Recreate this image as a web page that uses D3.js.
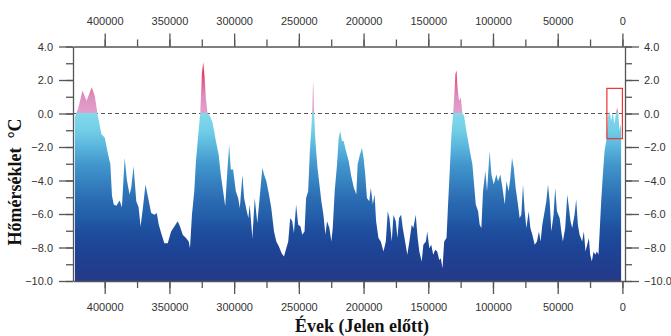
<!DOCTYPE html>
<html>
<head>
<meta charset="utf-8">
<script src="https://cdn.jsdelivr.net/npm/d3@7"></script>
<style>
  body { margin: 0; background: #fff; }
  .tick text { font-family: "Liberation Sans", Arial, sans-serif; font-size: 11px; fill: #333; }
  .axis path, .axis line { stroke: #555; stroke-width: 1.3; }
  .title { font-family: "Liberation Serif", "Times New Roman", serif; font-weight: bold; font-size: 18px; fill: #111; }
</style>
</head>
<body>
<svg width="671" height="336"></svg>
<script>
// years before present
const years = [
  423000, 420500, 417200, 414000, 410000, 407700, 405600, 402500, 400000, 397400,
  395600, 394400, 393000, 391000, 388500, 386700, 384600, 382800, 380800, 379500,
  377700, 375600, 373800, 372300, 370500, 368500, 366400, 364100, 361500, 359800,
  358200, 356400, 353900, 351300, 348700, 346200, 343600, 341800, 339700, 337200,
  335100, 334100, 332600, 330800, 329500, 327700, 326200, 324900, 323900, 322800,
  321800, 320500, 318700, 316700, 314100, 312000, 310300, 308500, 306900, 305100,
  303800, 302600, 300800, 298700, 296900, 295600, 293600, 292300, 290500, 289000,
  288000, 285900, 284100, 282100, 280300, 278200, 276900, 275100, 273100, 271300,
  269200, 267400, 265400, 263300, 261500, 259700, 258200, 256700, 255100, 253800,
  252100, 250500, 248700, 247400, 245600, 244400, 242800, 241500, 240300, 239500,
  239000, 238200, 237200, 235600, 234100, 232600, 231000, 229500, 228200, 226400,
  224900, 223800, 222300, 220500, 219200, 218000, 216700, 215400, 213600, 211500,
  209500, 207500, 205600, 204600, 203100, 201300, 200000, 198700, 197400, 195600,
  194400, 192800, 191500, 190300, 188500, 186700, 184600, 182800, 181300, 180000,
  178200, 176900, 175100, 173800, 172600, 171000, 169700, 167900, 166200, 164600,
  162800, 161500, 159700, 158200, 156900, 155100, 153800, 151800, 150800, 149200,
  147700, 146200, 144600, 143100, 141500, 140300, 139000, 137700, 135900, 134600,
  133300, 132100, 130800, 130000, 129000, 128200, 127400, 126200, 124900, 123600,
  122300, 121000, 119200, 117400, 115900, 114600, 113300, 111500, 110300, 109000,
  107700, 105900, 104600, 102600, 101200, 99400, 97400, 96100, 94300, 92700,
  90900, 89600, 87900, 86600, 85300, 84000, 82500, 80700, 79400, 78100,
  76800, 75500, 74200, 72400, 71100, 69600, 67800, 66000, 64500, 63200,
  61900, 60100, 58800, 57500, 56200, 54900, 53200, 51900, 50600, 48500,
  47200, 46000, 44200, 42600, 41300, 40100, 38800, 37000, 35700, 34400,
  33100, 31100, 29800, 28500, 27200, 25900, 24900, 23600, 22300, 21000,
  19700, 18500, 17700, 16400, 15100, 13800, 12500, 11300, 10000, 8700,
  7400, 6100, 4800, 3500, 2200, 1400, 1000
];

// temperature anomaly, degrees C
const temps = [
  -0.2, 0.3, 1.36, 0.76, 1.56, 1.06, 0.0, -1.24, -1.44, -2.44,
  -3.04, -4.9, -5.44, -5.5, -5.2, -5.6, -2.64, -4.0, -4.84, -4.44,
  -3.14, -5.24, -5.6, -6.74, -5.64, -4.24, -5.04, -5.94, -6.04, -5.94,
  -6.64, -7.14, -7.74, -7.74, -7.04, -6.74, -6.44, -6.74, -7.24, -7.44,
  -7.64, -8.04, -6.04, -4.64, -2.84, -1.24, 0.0, 2.36, 3.06, 2.16,
  0.86, 0.0, -0.14, -0.54, -1.64, -2.44, -3.64, -4.64, -5.54, -3.24,
  -1.84, -3.34, -3.34, -4.64, -5.04, -5.64, -3.64, -5.04, -5.74, -6.24,
  -5.44, -7.44, -5.04, -6.54, -5.04, -3.24, -3.64, -4.04, -4.84, -5.64,
  -7.04, -7.64, -7.94, -8.34, -8.54, -8.04, -7.64, -6.24, -6.44, -7.14,
  -5.44, -6.64, -6.74, -7.24, -7.04, -5.04, -4.64, -2.24, -0.84, 0.36,
  1.96, 0.0, -1.64, -3.24, -4.24, -5.24, -6.04, -7.24, -6.44, -6.84,
  -7.64, -6.84, -4.64, -3.04, -1.44, -1.04, -1.64, -1.64, -2.24, -2.84,
  -3.74, -4.44, -4.84, -3.04, -2.54, -2.04, -2.64, -3.64, -5.04, -5.24,
  -4.44, -5.44, -4.84, -6.44, -7.44, -7.64, -8.24, -7.64, -5.84, -6.24,
  -7.64, -6.04, -6.44, -7.44, -6.24, -6.04, -6.84, -7.64, -8.44, -7.64,
  -6.64, -6.84, -6.04, -7.44, -8.24, -8.84, -7.84, -7.64, -7.04, -8.04,
  -7.84, -8.44, -8.14, -8.24, -8.74, -8.64, -9.24, -7.64, -7.44, -5.24,
  -3.24, -1.24, 0.0, 0.96, 2.36, 2.56, 1.56, 0.76, 0.96, 0.0,
  -0.14, -0.84, -1.64, -2.44, -3.04, -4.24, -5.44, -5.84, -6.64, -6.84,
  -4.64, -3.44, -4.64, -2.24, -3.64, -4.24, -3.64, -4.04, -3.64, -4.44,
  -5.44, -4.04, -4.64, -3.84, -2.64, -3.24, -4.44, -5.44, -6.24, -6.04,
  -4.24, -5.84, -6.84, -5.84, -6.84, -7.24, -7.84, -7.64, -7.04, -7.64,
  -6.64, -5.84, -5.24, -4.24, -5.24, -7.04, -6.04, -4.44, -5.84, -6.24,
  -7.04, -7.64, -6.84, -4.84, -5.64, -6.44, -6.84, -6.04, -5.14, -6.64,
  -7.24, -7.64, -7.04, -8.24, -7.84, -7.44, -8.44, -8.84, -8.24, -8.44,
  -8.24, -8.44, -7.24, -5.24, -3.64, -2.24, -1.64, -0.24, 0.16, -0.44,
  0.06, -0.64, 0.16, 0.36, -1.04, -0.64, -0.9
];

const yTicks = [-10, -8, -6, -4, -2, 0, 2, 4];
const yMinor = d3.range(-10, 5, 1);
const xTicks = [400000, 350000, 300000, 250000, 200000, 150000, 100000, 50000, 0];
const xMinor = d3.range(0, 425000, 25000);

// value -> colour for the fill
const gradStops = [
  [4, "#e6001a"], [3, "#e8132d"], [2, "#e6558a"], [1, "#df8fc0"], [0.001, "#e0a2cc"],
  [0, "#82d9eb"], [-1, "#72cee6"], [-2, "#59b5dd"], [-3, "#4397cd"], [-4, "#3683c1"],
  [-5, "#2c6eb4"], [-6, "#2460ab"], [-7, "#1e4e9d"], [-8, "#1d4597"], [-9, "#213e8f"], [-10, "#253a8a"]
];

const data = years.map((yr, i) => ({ yr: yr, t: temps[i] }));

const svg = d3.select('svg');
const plotL = 73, plotR = 625, plotT = 46.5, plotB = 281;

const x = d3.scaleLinear().domain([424500, -2000]).range([plotL, plotR]);
const y = d3.scaleLinear().domain([-10, 4]).range([plotB, plotT]);

const grad = svg.append('defs').append('linearGradient')
  .attr('id', 'fillGrad')
  .attr('gradientUnits', 'userSpaceOnUse')
  .attr('x1', 0).attr('x2', 0)
  .attr('y1', y(4)).attr('y2', y(-10));

grad.selectAll('stop')
  .data(gradStops)
  .enter()
  .append('stop')
  .attr('offset', d => (4 - d[0]) / 14)
  .attr('stop-color', d => d[1]);

// zero line
svg.append('line')
  .attr('x1', plotL).attr('x2', plotR)
  .attr('y1', y(0)).attr('y2', y(0))
  .attr('stroke', '#555')
  .attr('stroke-width', 1.2)
  .attr('stroke-dasharray', '4,3');

const area = d3.area()
  .x(d => x(d.yr))
  .y0(y(-10))
  .y1(d => y(d.t));

svg.append('path')
  .datum(data)
  .attr('d', area)
  .attr('fill', 'url(#fillGrad)');

// minor ticks first, major axes on top
svg.append('g').attr('class', 'axis').attr('transform', `translate(0,${plotT})`)
  .call(d3.axisTop(x).tickValues(xMinor).tickSize(7).tickFormat('').tickSizeOuter(0))
  .select('.domain').remove();
svg.append('g').attr('class', 'axis').attr('transform', `translate(0,${plotB})`)
  .call(d3.axisBottom(x).tickValues(xMinor).tickSize(7).tickFormat('').tickSizeOuter(0))
  .select('.domain').remove();
svg.append('g').attr('class', 'axis').attr('transform', `translate(${plotL},0)`)
  .call(d3.axisLeft(y).tickValues(yMinor).tickSize(7).tickFormat('').tickSizeOuter(0))
  .select('.domain').remove();
svg.append('g').attr('class', 'axis').attr('transform', `translate(${plotR},0)`)
  .call(d3.axisRight(y).tickValues(yMinor).tickSize(7).tickFormat('').tickSizeOuter(0))
  .select('.domain').remove();

svg.append('g').attr('class', 'axis').attr('transform', `translate(0,${plotT})`)
  .call(d3.axisTop(x).tickValues(xTicks).tickSize(13).tickPadding(9).tickSizeOuter(0).tickFormat(d3.format('d')));
svg.append('g').attr('class', 'axis').attr('transform', `translate(0,${plotB})`)
  .call(d3.axisBottom(x).tickValues(xTicks).tickSize(13).tickPadding(9).tickSizeOuter(0).tickFormat(d3.format('d')));
svg.append('g').attr('class', 'axis').attr('transform', `translate(${plotL},0)`)
  .call(d3.axisLeft(y).tickValues(yTicks).tickSize(14).tickPadding(6).tickSizeOuter(0).tickFormat(d3.format('.1f')));
svg.append('g').attr('class', 'axis').attr('transform', `translate(${plotR},0)`)
  .call(d3.axisRight(y).tickValues(yTicks).tickSize(14).tickPadding(5).tickSizeOuter(0).tickFormat(d3.format('.1f')));

// highlight box around the Holocene
svg.append('rect')
  .attr('x', x(12000))
  .attr('y', y(1.5))
  .attr('width', x(0) - x(12000))
  .attr('height', y(-1.5) - y(1.5))
  .attr('fill', 'none')
  .attr('stroke', '#e33')
  .attr('stroke-width', 1.2);

svg.append('text')
  .attr('class', 'title')
  .attr('text-anchor', 'middle')
  .attr('x', 362).attr('y', 332)
  .text('Évek (Jelen előtt)');

svg.append('text')
  .attr('class', 'title')
  .attr('text-anchor', 'middle')
  .attr('transform', 'translate(21,182) rotate(-90)')
  .attr('xml:space', 'preserve')
  .text('Hőmérséklet  °C');
</script>
</body>
</html>
